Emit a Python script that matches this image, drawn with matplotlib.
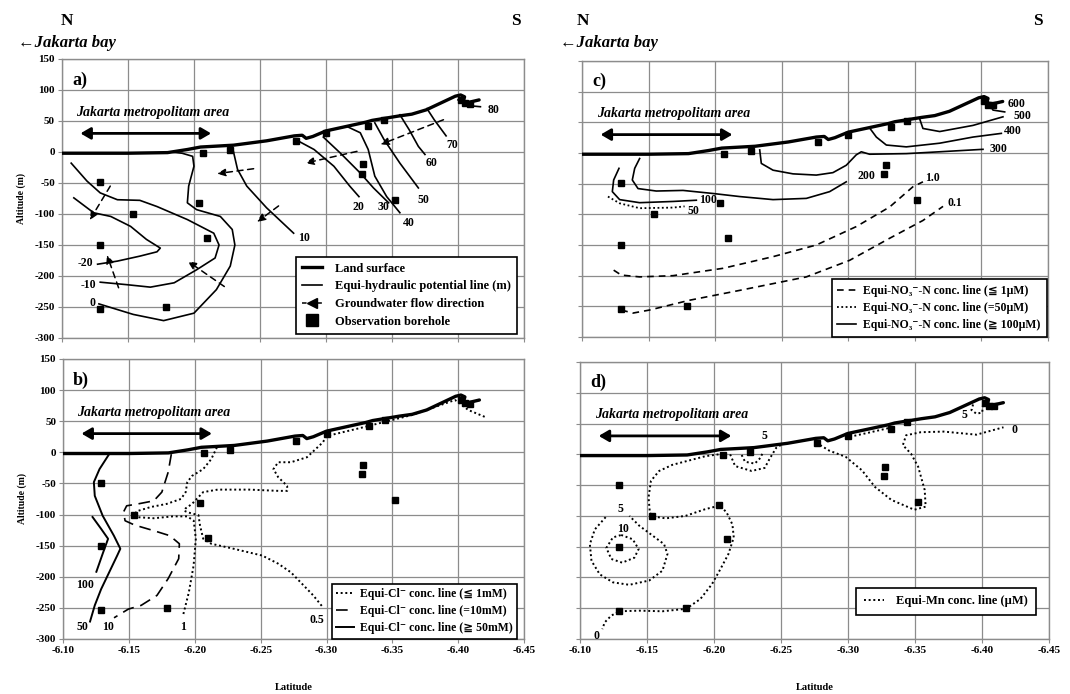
import numpy as np
import matplotlib.pyplot as plt
from matplotlib.lines import Line2D

plt.rcParams['font.family'] = ['Liberation Serif', 'DejaVu Sans', 'Noto Sans CJK JP']
plt.rcParams['font.weight'] = 'bold'

# ---- shared: land surface and boreholes (latitude, altitude m)
land_lat = [-6.100, -6.150, -6.180, -6.195, -6.205, -6.230, -6.255, -6.276, -6.282, -6.285,
            -6.290, -6.300, -6.315, -6.330, -6.335, -6.355, -6.365, -6.376, -6.388, -6.398,
            -6.402, -6.405, -6.404, -6.408, -6.416]
land_alt = [-2, -2, -1, 4, 8, 11, 18, 26, 27, 22, 25, 34, 41, 48, 51, 58, 61, 68, 80, 90,
            92, 89, 82, 80, 84]
bh_lat = [-6.129, -6.154, -6.129, -6.129, -6.179, -6.207, -6.204, -6.210, -6.227, -6.277,
          -6.300, -6.328, -6.327, -6.332, -6.344, -6.352, -6.402, -6.405, -6.409]
bh_alt = [-49, -100, -150, -254, -250, -1, -82, -138, 4, 18, 30, -20, -35, 42, 52, -77, 84, 79, 78]

# ---- a) equi-hydraulic potential lines (m)
h_m20_lat = [-6.109, -6.124, -6.137, -6.152, -6.164, -6.1745, -6.172, -6.159, -6.142, -6.127]
h_m20_alt = [-74, -98, -104, -120, -141, -155, -161, -168, -176, -181]
h_m10_lat = [-6.107, -6.119, -6.129, -6.142, -6.159, -6.172, -6.195, -6.215, -6.219, -6.216,
             -6.202, -6.185, -6.167, -6.149, -6.129]
h_m10_alt = [-18, -47, -66, -77, -78, -88, -109, -131, -150, -171, -190, -211, -218, -214, -210]
h_0_lat = [-6.182, -6.191, -6.199, -6.200, -6.196, -6.195, -6.202, -6.220, -6.229, -6.231,
           -6.2275, -6.217, -6.200, -6.177, -6.154, -6.128]
h_0_alt = [0, -2, -7, -23, -55, -82, -93, -104, -125, -150, -184, -222, -260, -272, -262, -245]
h_10_lat = [-6.229, -6.233, -6.240, -6.255, -6.2755]
h_10_alt = [9, -28, -55, -90, -131]
h_20_lat = [-6.277, -6.291, -6.306, -6.318, -6.325]
h_20_alt = [20, 4, -23, -55, -72]
h_30_lat = [-6.298, -6.311, -6.326, -6.336, -6.3475]
h_30_alt = [24, -2, -34, -58, -82]
h_40_lat = [-6.316, -6.326, -6.332, -6.337, -6.346, -6.356]
h_40_alt = [41, 31, 4, -39, -72, -98]
h_50_lat = [-6.337, -6.344, -6.356, -6.370]
h_50_alt = [47, 20, -18, -58]
h_60_lat = [-6.356, -6.363, -6.370, -6.375]
h_60_alt = [60, 36, 9, -4]
h_70_lat = [-6.3765, -6.382, -6.391]
h_70_alt = [70, 52, 26]
h_80_lat = [-6.400, -6.407, -6.417]
h_80_alt = [84, 75, 73]
h_labels = ['-20', '-10', '0', '10', '20', '30', '40', '50', '60', '70', '80']
h_label_lat = [-6.1177, -6.1202, -6.1235, -6.2831, -6.3247, -6.3437, -6.3626, -6.374, -6.3803, -6.3955, -6.427]
h_label_alt = [-179, -215, -243, -139, -88, -89, -115, -77, -18, 11, 68]

# groundwater flow arrows: start -> end
flow_lat0 = [-6.389, -6.3235, -6.2452, -6.2641, -6.1366, -6.1429, -6.223]
flow_alt0 = [52, 1, -27, -87, -55, -219, -217]
flow_lat1 = [-6.3412, -6.2843, -6.2174, -6.2477, -6.121, -6.1341, -6.1952]
flow_alt1 = [12, -18, -35, -113, -110, -166, -176]

# ---- b) Cl- lines
cl50_lat = [-6.135, -6.1277, -6.1234, -6.1241, -6.1301, -6.1386, -6.1435, -6.1411, -6.135, -6.1289, -6.1241, -6.1205]
cl50_alt = [-3, -27, -48, -70, -102, -134, -155, -166, -193, -220, -246, -272]
cl100_lat = [-6.1224, -6.1289, -6.1342, -6.1301, -6.1253]
cl100_alt = [-104, -123, -139, -163, -192]
cl10_lat = [-6.1822, -6.1798, -6.175, -6.1689, -6.1568, -6.1483, -6.1459, -6.1471, -6.1544, -6.1689,
            -6.181, -6.1883, -6.1878, -6.1798, -6.1713, -6.1593, -6.1496, -6.1387]
cl10_alt = [-3, -32, -64, -78, -83, -86, -96, -110, -117, -126, -134, -147, -171, -203, -230, -246, -252, -266]
cl1_lat = [-6.2168, -6.2125, -6.2064, -6.1979, -6.1943, -6.1931, -6.1895, -6.1786, -6.1665, -6.1556,
           -6.1544, -6.1689, -6.1834, -6.1943, -6.1992, -6.2008, -6.1991, -6.1955, -6.1911]
cl1_alt = [8, -11, -27, -38, -48, -64, -75, -83, -88, -95, -104, -106, -103, -103, -110, -139, -182, -225, -262]
cl05_lat = [-6.420, -6.4075, -6.401, -6.3975, -6.365, -6.3275, -6.300, -6.2972, -6.2851, -6.273,
            -6.2633, -6.2597, -6.2633, -6.2701, -6.2701, -6.2633, -6.2415, -6.2173, -6.2064, -6.2028,
            -6.1979, -6.1931, -6.1919, -6.1955, -6.2028, -6.204, -6.2064, -6.2125, -6.2294, -6.2512,
            -6.2633, -6.273, -6.2826, -6.2899, -6.2972]
cl05_alt = [57, 68, 79, 84, 60, 40, 26, 16, -8, -16, -16, -27, -40, -54, -62, -62, -60, -60, -64, -72,
            -83, -90, -94, -97, -101, -118, -139, -147, -155, -166, -179, -193, -214, -230, -249]
cl_labels = ['50', '10', '100', '1', '0.5']
cl_label_lat = [-6.1144, -6.1338, -6.1168, -6.1914, -6.2923]
cl_label_alt = [-281, -280, -214, -281, -270]

# ---- c) NO3-N lines
n600_lat = [-6.405, -6.4087, -6.4175]
n600_alt = [84, 70, 67]
n500_lat = [-6.3536, -6.3561, -6.3687, -6.3937, -6.4162]
n500_alt = [56, 40, 35, 45, 59]
n400_lat = [-6.316, -6.3211, -6.3286, -6.3436, -6.3687, -6.3937, -6.415]
n400_alt = [41, 26, 13, 10, 16, 26, 32]
n300_lat = [-6.2335, -6.2347, -6.2435, -6.2585, -6.276, -6.2885, -6.2985, -6.306, -6.3098, -6.316,
            -6.3436, -6.3687, -6.4012]
n300_alt = [5, -17, -28, -34, -36, -32, -20, -3, 2, -2, -1, 2, 6]
n200_lat = [-6.1433, -6.1396, -6.1378, -6.1421, -6.1558, -6.1759, -6.1984, -6.2184, -6.2435, -6.2685, -6.286, -6.2985]
n200_alt = [-9, -25, -44, -58, -62, -61, -66, -71, -76, -74, -63, -47]
n100_lat = [-6.1278, -6.1238, -6.1228, -6.1283, -6.1433, -6.1684, -6.1859]
n100_alt = [-25, -44, -63, -76, -81, -79, -77]
n50_lat = [-6.1195, -6.1283, -6.1433, -6.1684, -6.1771]
n50_alt = [-71, -82, -90, -89, -87]
n1_lat = [-6.1238, -6.1295, -6.1433, -6.1684, -6.2059, -6.2435, -6.276, -6.306, -6.3311, -6.3486, -6.3561]
n1_alt = [-191, -199, -202, -200, -188, -169, -150, -120, -88, -55, -47]
n01_lat = [-6.1295, -6.1383, -6.1508, -6.1809, -6.2184, -6.2685, -6.301, -6.3311, -6.3561, -6.3712]
n01_alt = [-256, -261, -256, -240, -224, -202, -175, -139, -110, -87]
n_labels = ['600', '500', '400', '300', '200', '100', '50', '1.0', '0.1']
n_label_lat = [-6.4267, -6.4307, -6.4237, -6.4125, -6.3136, -6.1946, -6.1834, -6.3631, -6.3799]
n_label_alt = [80, 60, 36, 7, -37, -77, -94, -41, -82]

# ---- d) Mn lines
mn0_lat = [-6.2034, -6.1936, -6.1813, -6.169, -6.1591, -6.153, -6.1512, -6.1522, -6.1547, -6.164,
           -6.1788, -6.1936, -6.2047, -6.2096, -6.2138, -6.2148, -6.2108, -6.2047, -6.1985, -6.1899,
           -6.1793, -6.1616, -6.1443, -6.1296, -6.1234, -6.1185, -6.1167]
mn0_alt = [0, -3, -10, -17, -27, -43, -70, -95, -101, -104, -100, -89, -83, -95, -114, -135, -162,
           -187, -211, -235, -251, -255, -254, -255, -262, -273, -284]
mn5_lat = [-6.1192, -6.1111, -6.1074, -6.1086, -6.1148, -6.1246, -6.1369, -6.1517, -6.1616, -6.1653,
           -6.1628, -6.1542, -6.1443, -6.1369]
mn5_alt = [-102, -122, -146, -173, -195, -208, -212, -205, -189, -162, -146, -132, -116, -100]
mn10_lat = [-6.1308, -6.1394, -6.1438, -6.1406, -6.1315, -6.1234, -6.1197, -6.1246, -6.1308]
mn10_alt = [-131, -138, -154, -168, -176, -170, -152, -135, -131]
mn_top_out_lat = [-6.2121, -6.2158, -6.2281, -6.2379, -6.2416, -6.2466, -6.2507]
mn_top_out_alt = [0, -19, -27, -22, -7, 11, 16]
mn_top_in_lat = [-6.2207, -6.2232, -6.2305, -6.235, -6.2367]
mn_top_in_alt = [-1, -12, -15, -5, 5]
mn_right_lat = [-6.2763, -6.2861, -6.2983, -6.3105, -6.3202, -6.3324, -6.3495, -6.358, -6.3573,
                -6.3524, -6.3471, -6.341, -6.3434, -6.3544, -6.3715, -6.3959, -6.4161]
mn_right_alt = [19, 6, -4, -26, -53, -74, -90, -85, -58, -20, 1, 15, 31, 36, 37, 32, 44]
mn_surf_lat = [-6.298, -6.315, -6.331]
mn_surf_alt = [27, 35, 43]
mn_peak_lat = [-6.3934, -6.3922, -6.3959, -6.4002, -6.4007]
mn_peak_alt = [81, 72, 66, 68, 79]
mn_labels = ['0', '5', '10', '5', '0', '5']
mn_label_lat = [-6.1123, -6.1303, -6.132, -6.2374, -6.4246, -6.3873]
mn_label_alt = [-295, -88, -121, 30, 39, 64]

lat_ticks = [-6.10, -6.15, -6.20, -6.25, -6.30, -6.35, -6.40, -6.45]
alt_ticks = [-300, -250, -200, -150, -100, -50, 0, 50, 100, 150]

DOT = (0, (1, 1.4))
DASH = (0, (4, 3))
LDASH = (0, (7, 4))
lab_kw = dict(fontsize=8.5, fontweight='bold', ha='center', va='center')
leg_kw = dict(loc='lower right', fontsize=9, frameon=True, fancybox=False, edgecolor='k',
              framealpha=1, handlelength=1.6, handletextpad=1.0, labelspacing=0.45, borderpad=0.5)

fig = plt.figure(figsize=(10.7, 6.94), dpi=100)
ax_a = fig.add_axes([0.0579, 0.513, 0.4318, 0.402])
ax_b = fig.add_axes([0.0589, 0.0793, 0.431, 0.4035])
ax_c = fig.add_axes([0.5439, 0.5144, 0.4355, 0.3977])
ax_d = fig.add_axes([0.542, 0.0793, 0.4383, 0.399])


def base(ax, letter, xlab, ylab):
    ax.set_xlim(-6.10, -6.45)
    ax.set_ylim(-300, 150)
    ax.set_xticks(lat_ticks)
    ax.set_yticks(alt_ticks)
    ax.grid(True, color='#8c8c8c', lw=0.9)
    ax.set_axisbelow(True)
    for s in ax.spines.values():
        s.set_color('#8c8c8c')
        s.set_linewidth(1.0)
    ax.tick_params(length=3, color='#8c8c8c', labelsize=8, pad=2)
    if xlab:
        ax.set_xticklabels(['%.2f' % t for t in lat_ticks], fontweight='bold')
        ax.set_xlabel('Latitude', fontsize=7.5, fontweight='bold', labelpad=20)
    else:
        ax.set_xticklabels([])
    if ylab:
        ax.set_yticklabels([str(t) for t in alt_ticks], fontweight='bold')
        ax.set_ylabel('Altitude (m)', fontsize=7, fontweight='bold', labelpad=6)
    else:
        ax.set_yticklabels([])
    ax.text(0.022, 0.925, letter, transform=ax.transAxes, fontsize=13, fontweight='bold',
            ha='left', va='center')
    ax.text(-6.111, 64, 'Jakarta metropolitam area', fontsize=10, fontweight='bold',
            style='italic', ha='left', va='center')
    ax.annotate('', xy=(-6.213, 30), xytext=(-6.114, 30),
                arrowprops=dict(arrowstyle='<|-|>,head_length=0.6,head_width=0.35', lw=2,
                                color='k', shrinkA=0, shrinkB=0))
    ax.plot(land_lat, land_alt, color='k', lw=2.4, solid_capstyle='round', zorder=4)
    ax.plot(bh_lat, bh_alt, 's', color='k', ms=4.5, zorder=5)


base(ax_a, 'a)', False, True)
base(ax_b, 'b)', True, True)
base(ax_c, 'c)', False, False)
base(ax_d, 'd)', True, False)

# a) hydraulic potential
for la, al in [(h_m20_lat, h_m20_alt), (h_m10_lat, h_m10_alt), (h_0_lat, h_0_alt),
               (h_10_lat, h_10_alt), (h_20_lat, h_20_alt), (h_30_lat, h_30_alt),
               (h_40_lat, h_40_alt), (h_50_lat, h_50_alt), (h_60_lat, h_60_alt),
               (h_70_lat, h_70_alt), (h_80_lat, h_80_alt)]:
    ax_a.plot(la, al, color='k', lw=1.2)
for t, x, y in zip(h_labels, h_label_lat, h_label_alt):
    ax_a.text(x, y, t, **lab_kw)
for x0, y0, x1, y1 in zip(flow_lat0, flow_alt0, flow_lat1, flow_alt1):
    ax_a.annotate('', xy=(x1, y1), xytext=(x0, y0),
                  arrowprops=dict(arrowstyle='-|>,head_length=0.5,head_width=0.22', lw=1.1,
                                  ls=(0, (4, 3)), color='k', shrinkA=0, shrinkB=0))
leg_a = [Line2D([], [], color='k', lw=2.4),
         Line2D([], [], color='k', lw=1.2),
         Line2D([], [], color='k', lw=1.1, ls=(0, (3, 2)), marker='<', ms=7),
         Line2D([], [], color='k', ls='none', marker='s', ms=8)]
ax_a.legend(leg_a, ['Land surface', 'Equi-hydraulic potential line (m)',
                    'Groundwater flow direction', 'Observation borehole'],
            bbox_to_anchor=(0.998, -0.008), **leg_kw).get_frame().set_linewidth(1.2)

# b) Cl- lines
ax_b.plot(cl50_lat, cl50_alt, color='k', lw=1.4)
ax_b.plot(cl100_lat, cl100_alt, color='k', lw=1.4)
ax_b.plot(cl10_lat, cl10_alt, color='k', lw=1.2, ls=LDASH)
ax_b.plot(cl1_lat, cl1_alt, color='k', lw=1.4, ls=DOT)
ax_b.plot(cl05_lat, cl05_alt, color='k', lw=1.4, ls=DOT)
for t, x, y in zip(cl_labels, cl_label_lat, cl_label_alt):
    ax_b.text(x, y, t, **lab_kw)
leg_b = [Line2D([], [], color='k', lw=1.4, ls=DOT),
         Line2D([], [], color='k', lw=1.2, ls=LDASH),
         Line2D([], [], color='k', lw=1.4)]
leg_kw_b = dict(leg_kw, fontsize=8.5, handlelength=1.5, handletextpad=0.5, labelspacing=0.4,
                borderpad=0.4)
ax_b.legend(leg_b, ['Equi-Cl\u207b conc. line (\u2266 1mM)', 'Equi-Cl\u207b conc. line (=10mM)',
                    'Equi-Cl\u207b conc. line (\u2267 50mM)'],
            bbox_to_anchor=(0.998, -0.02), **leg_kw_b).get_frame().set_linewidth(1.2)

# c) NO3-N lines
for la, al in [(n600_lat, n600_alt), (n500_lat, n500_alt), (n400_lat, n400_alt),
               (n300_lat, n300_alt), (n200_lat, n200_alt), (n100_lat, n100_alt)]:
    ax_c.plot(la, al, color='k', lw=1.2)
ax_c.plot(n50_lat, n50_alt, color='k', lw=1.3, ls=DOT)
ax_c.plot(n1_lat, n1_alt, color='k', lw=1.2, ls=DASH)
ax_c.plot(n01_lat, n01_alt, color='k', lw=1.2, ls=DASH)
for t, x, y in zip(n_labels, n_label_lat, n_label_alt):
    ax_c.text(x, y, t, **lab_kw)
leg_c = [Line2D([], [], color='k', lw=1.2, ls=DASH),
         Line2D([], [], color='k', lw=1.3, ls=DOT),
         Line2D([], [], color='k', lw=1.2)]
leg_kw_c = dict(leg_kw, fontsize=8.5, handletextpad=0.6, labelspacing=0.4)
ax_c.legend(leg_c, ['Equi-NO\u2083\u207b-N conc. line (\u2266 1\u00b5M)',
                    'Equi-NO\u2083\u207b-N conc. line (=50\u00b5M)',
                    'Equi-NO\u2083\u207b-N conc. line (\u2267 100\u00b5M)'],
            bbox_to_anchor=(1.01, -0.02), **leg_kw_c).get_frame().set_linewidth(1.2)

# d) Mn lines
for la, al in [(mn0_lat, mn0_alt), (mn5_lat, mn5_alt), (mn10_lat, mn10_alt),
               (mn_top_out_lat, mn_top_out_alt), (mn_top_in_lat, mn_top_in_alt),
               (mn_right_lat, mn_right_alt), (mn_surf_lat, mn_surf_alt),
               (mn_peak_lat, mn_peak_alt)]:
    ax_d.plot(la, al, color='k', lw=1.4, ls=DOT)
for t, x, y in zip(mn_labels, mn_label_lat, mn_label_alt):
    ax_d.text(x, y, t, **lab_kw)
ax_d.legend([Line2D([], [], color='k', lw=1.4, ls=DOT)], ['Equi-Mn conc. line (\u00b5M)'],
            bbox_to_anchor=(0.985, 0.065), **dict(leg_kw, borderpad=0.6)).get_frame().set_linewidth(1.2)

# headers
for xn, xs, xj in [(67, 516, 18), (583, 1038, 560)]:
    fig.text(xn / 1070, 1 - 21 / 694, 'N', fontsize=12.5, fontweight='bold', ha='center', va='center')
    fig.text(xs / 1070, 1 - 21 / 694, 'S', fontsize=12.5, fontweight='bold', ha='center', va='center')
    fig.text(xj / 1070, 1 - 43 / 694, '\u2190Jakarta bay', fontsize=12, fontweight='bold',
             style='italic', ha='left', va='center')

fig.savefig('out.png', dpi=100)
